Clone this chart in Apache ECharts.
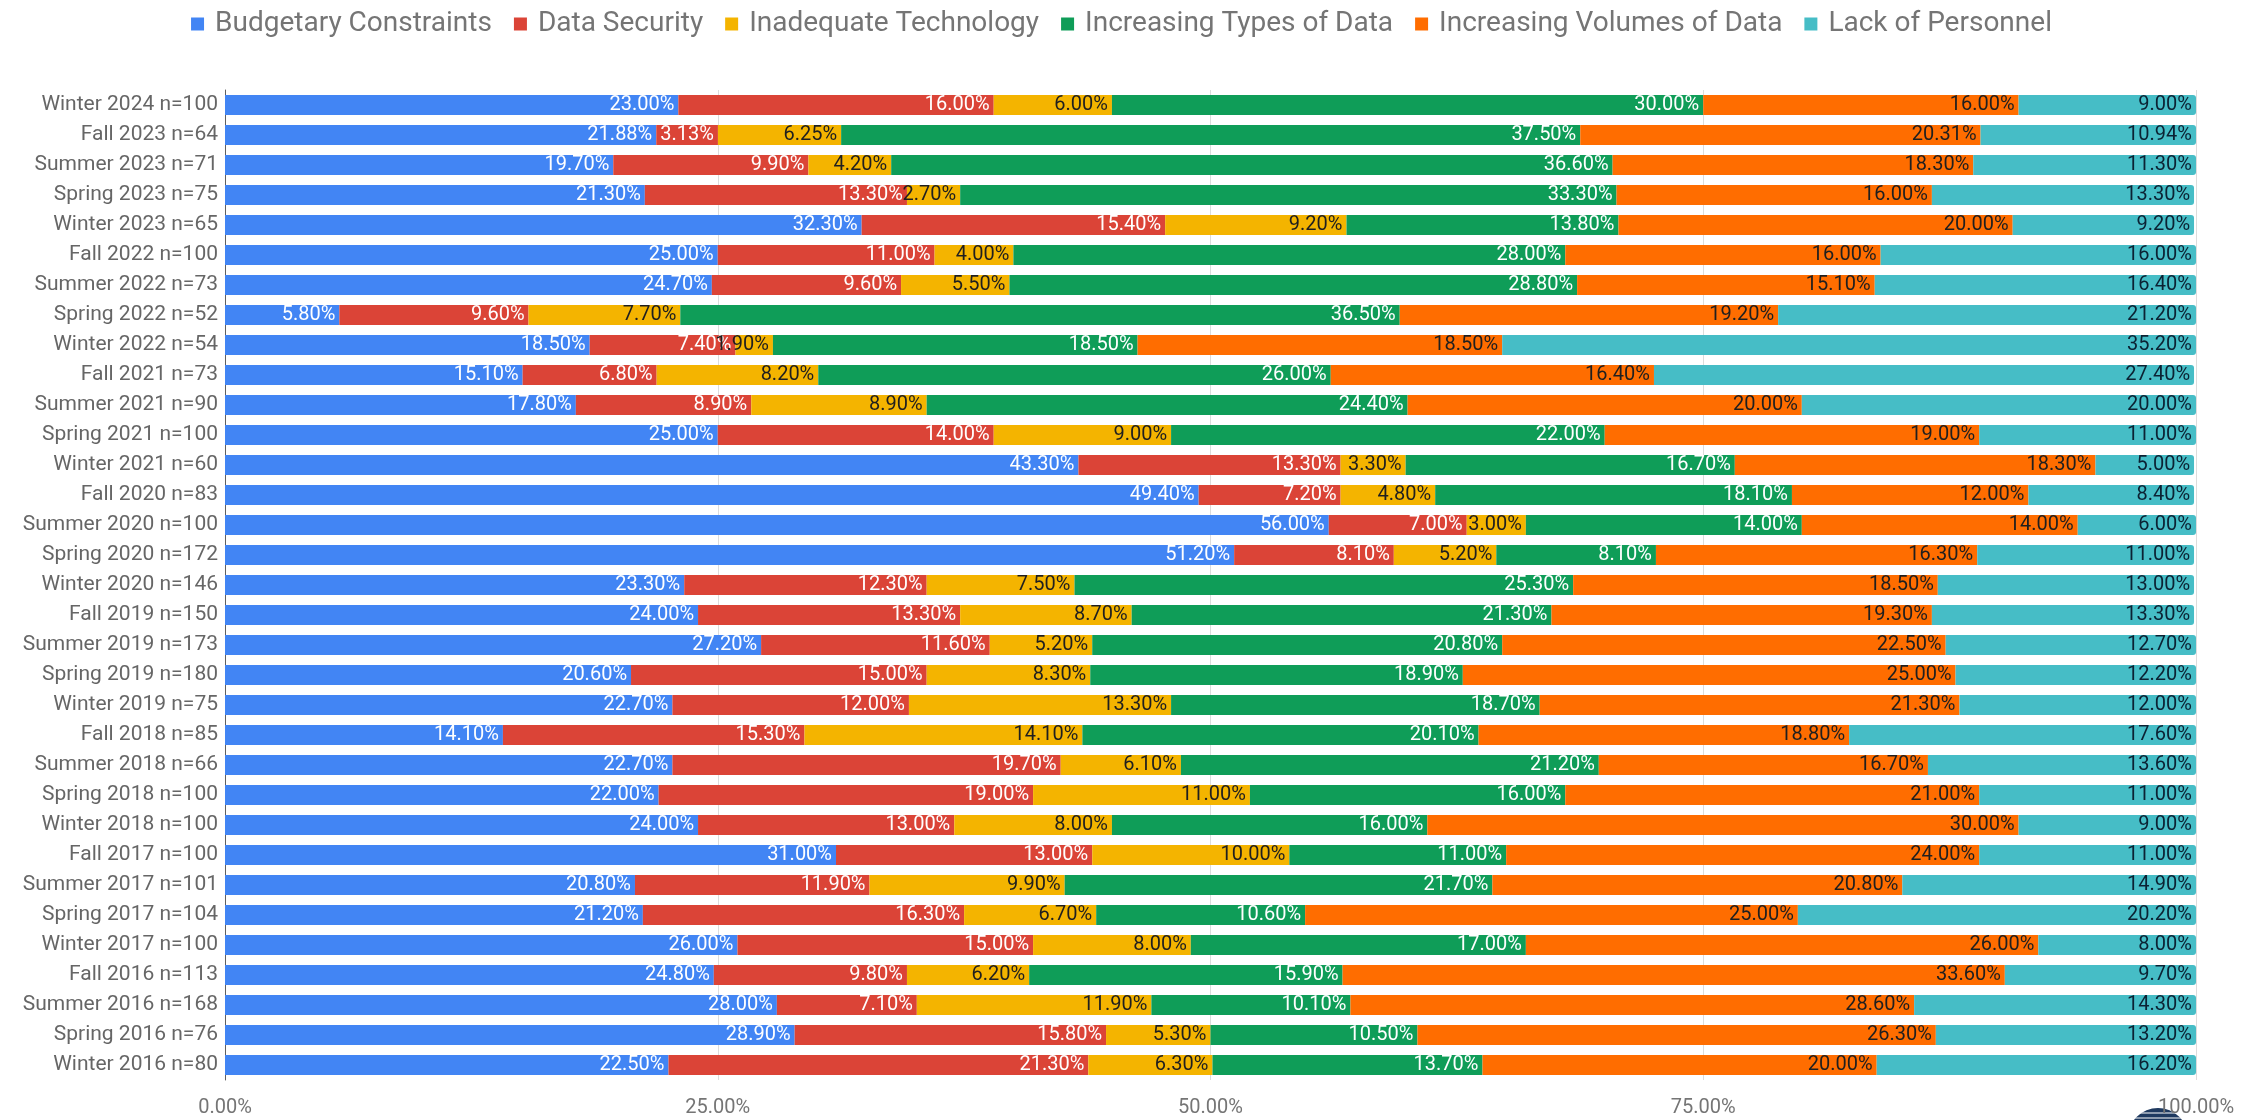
<!DOCTYPE html>
<html><head><meta charset="utf-8">
<script src="https://cdn.jsdelivr.net/npm/echarts@6/dist/echarts.min.js"></script>
<style>html,body{margin:0;padding:0;background:#fff}#c{width:2243px;height:1120px}</style>
</head><body><div id="c"></div>
<script>
const categories = [
  'Winter 2024 n=100','Fall 2023 n=64','Summer 2023 n=71','Spring 2023 n=75','Winter 2023 n=65',
  'Fall 2022 n=100','Summer 2022 n=73','Spring 2022 n=52','Winter 2022 n=54','Fall 2021 n=73',
  'Summer 2021 n=90','Spring 2021 n=100','Winter 2021 n=60','Fall 2020 n=83','Summer 2020 n=100',
  'Spring 2020 n=172','Winter 2020 n=146','Fall 2019 n=150','Summer 2019 n=173','Spring 2019 n=180',
  'Winter 2019 n=75','Fall 2018 n=85','Summer 2018 n=66','Spring 2018 n=100','Winter 2018 n=100',
  'Fall 2017 n=100','Summer 2017 n=101','Spring 2017 n=104','Winter 2017 n=100','Fall 2016 n=113',
  'Summer 2016 n=168','Spring 2016 n=76','Winter 2016 n=80'
];
const budgetaryConstraints = [23.00,21.88,19.70,21.30,32.30,25.00,24.70,5.80,18.50,15.10,17.80,25.00,43.30,49.40,56.00,51.20,23.30,24.00,27.20,20.60,22.70,14.10,22.70,22.00,24.00,31.00,20.80,21.20,26.00,24.80,28.00,28.90,22.50];
const dataSecurity = [16.00,3.13,9.90,13.30,15.40,11.00,9.60,9.60,7.40,6.80,8.90,14.00,13.30,7.20,7.00,8.10,12.30,13.30,11.60,15.00,12.00,15.30,19.70,19.00,13.00,13.00,11.90,16.30,15.00,9.80,7.10,15.80,21.30];
const inadequateTechnology = [6.00,6.25,4.20,2.70,9.20,4.00,5.50,7.70,1.90,8.20,8.90,9.00,3.30,4.80,3.00,5.20,7.50,8.70,5.20,8.30,13.30,14.10,6.10,11.00,8.00,10.00,9.90,6.70,8.00,6.20,11.90,5.30,6.30];
const increasingTypes = [30.00,37.50,36.60,33.30,13.80,28.00,28.80,36.50,18.50,26.00,24.40,22.00,16.70,18.10,14.00,8.10,25.30,21.30,20.80,18.90,18.70,20.10,21.20,16.00,16.00,11.00,21.70,10.60,17.00,15.90,10.10,10.50,13.70];
const increasingVolumes = [16.00,20.31,18.30,16.00,20.00,16.00,15.10,19.20,18.50,16.40,20.00,19.00,18.30,12.00,14.00,16.30,18.50,19.30,22.50,25.00,21.30,18.80,16.70,21.00,30.00,24.00,20.80,25.00,26.00,33.60,28.60,26.30,20.00];
const lackOfPersonnel = [9.00,10.94,11.30,13.30,9.20,16.00,16.40,21.20,35.20,27.40,20.00,11.00,5.00,8.40,6.00,11.00,13.00,13.30,12.70,12.20,12.00,17.60,13.60,11.00,9.00,11.00,14.90,20.20,8.00,9.70,14.30,13.20,16.20];
const xTicks = [0, 25, 50, 75, 100];

const seriesDefs = [
  ['Budgetary Constraints', budgetaryConstraints, '#4285F4', '#ffffff'],
  ['Data Security', dataSecurity, '#DB4437', '#ffffff'],
  ['Inadequate Technology', inadequateTechnology, '#F4B400', '#1f1f1f'],
  ['Increasing Types of Data', increasingTypes, '#0F9D58', '#ffffff'],
  ['Increasing Volumes of Data', increasingVolumes, '#FF6D00', '#1f1f1f'],
  ['Lack of Personnel', lackOfPersonnel, '#46BDC6', '#0b2233']
];

const FONT = 'Roboto';
const chart = echarts.init(document.getElementById('c'), null, {renderer: 'canvas'});
chart.setOption({
  backgroundColor: 'transparent',
  animation: false,
  textStyle: {fontFamily: FONT},
  legend: {
    top: 5, left: 'center',
    icon: 'rect', itemWidth: 13, itemHeight: 13, itemGap: 22,
    textStyle: {fontFamily: FONT, fontSize: 28, color: '#757575', padding: [0, 0, 0, 6]},
    data: seriesDefs.map(s => s[0])
  },
  grid: {left: 225, right: 47, top: 90, bottom: 40, containLabel: false},
  xAxis: {
    type: 'value', min: 0, max: 100, interval: 25,
    axisLine: {show: false}, axisTick: {show: false},
    splitLine: {show: true, lineStyle: {color: '#dcdcdc', width: 1}},
    axisLabel: {
      fontFamily: FONT, fontSize: 20, color: '#757575', margin: 18,
      formatter: v => xTicks.indexOf(v) >= 0 ? v.toFixed(2) + '%' : ''
    }
  },
  yAxis: {
    type: 'category', inverse: true, data: categories,
    axisLine: {show: true, lineStyle: {color: '#5f5f5f', width: 1}},
    axisTick: {show: false},
    axisLabel: {fontFamily: FONT, fontSize: 21, color: '#666666', margin: 7}
  },
  series: seriesDefs.map((s, i) => ({
    name: s[0], type: 'bar', stack: 'total', data: s[1], barWidth: 20,
    itemStyle: {color: s[2], borderRadius: i === 5 ? [0, 3, 3, 0] : 0},
    label: {
      show: true, position: 'insideRight', distance: 4,
      fontFamily: FONT, fontSize: 20, color: s[3],
      formatter: p => p.value.toFixed(2) + '%'
    },
    emphasis: {disabled: true}
  })),
  graphic: [
    {type: 'circle', zlevel: -1, silent: true, shape: {cx: 2158, cy: 1138, r: 30}, style: {fill: '#1f3a60'}},
    {type: 'line', zlevel: -1, z: 1, silent: true, shape: {x1: 2128, y1: 1113, x2: 2188, y2: 1113}, style: {stroke: '#ffffff', lineWidth: 1.2}},
    {type: 'line', zlevel: -1, z: 1, silent: true, shape: {x1: 2128, y1: 1118, x2: 2188, y2: 1118}, style: {stroke: '#ffffff', lineWidth: 1.2}}
  ]
});
</script></body></html>
